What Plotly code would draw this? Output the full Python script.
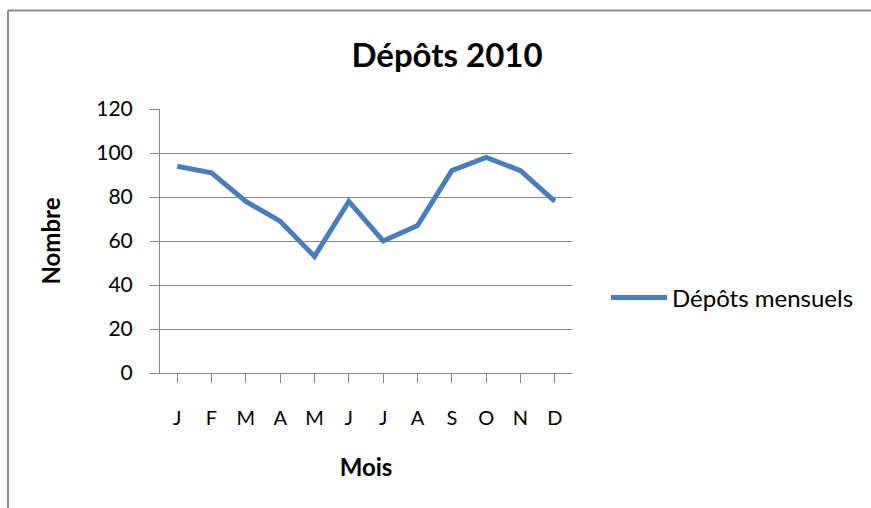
import plotly.graph_objects as go

months = ["J", "F", "M", "A", "M", "J", "J", "A", "S", "O", "N", "D"]
depots = [94, 91, 78, 69, 53, 78, 60, 67, 92, 98, 92, 78]
series_name = "Dépôts mensuels"
title_text = "Dépôts 2010"
x_title = "Mois"
y_title = "Nombre"
y_ticks = [0, 20, 40, 60, 80, 100, 120]

FONT = "Lato"
GRID = "#868686"
W, H = 871, 508
PL, PR, PT, PB = 160, 572, 109, 373
pw, ph = PR - PL, PB - PT


def px(x):
    return (x - PL) / pw


def py(y):
    return (PB - y) / ph


x_idx = list(range(len(months)))

fig = go.Figure()
fig.add_trace(go.Scatter(
    x=x_idx, y=depots, mode="lines", name=series_name,
    line=dict(color="#4a7ebb", width=5),
))

fig.update_layout(
    width=W, height=H,
    margin=dict(l=PL, r=W - PR, t=PT, b=H - PB),
    paper_bgcolor="white", plot_bgcolor="white",
    font=dict(family=FONT, color="#000000", size=20),
    title=dict(text="<b>" + title_text + "</b>", x=447 / W, xref="container",
               xanchor="center", y=1 - 55 / H, yref="container", yanchor="middle",
               font=dict(size=33, family=FONT)),
    showlegend=True,
    legend=dict(x=px(606), y=py(298), xanchor="left", yanchor="middle",
                font=dict(size=24, family=FONT), bgcolor="rgba(0,0,0,0)", itemwidth=56),
    shapes=[
        dict(type="line", xref="paper", yref="paper", x0=px(8), x1=px(8),
             y0=py(H), y1=py(10.5), line=dict(color="#8c8c8c", width=2)),
        dict(type="line", xref="paper", yref="paper", x0=px(8), x1=px(W),
             y0=py(10.5), y1=py(10.5), line=dict(color="#8c8c8c", width=2)),
    ],
)

fig.update_xaxes(
    range=[-0.5, 11.5],
    tickmode="array", tickvals=x_idx, ticktext=months,
    tickson="boundaries", ticks="outside", ticklen=9, tickcolor=GRID, tickwidth=1,
    showline=True, linecolor=GRID, linewidth=1,
    showgrid=False, zeroline=False,
    ticklabelstandoff=18,
    tickfont=dict(size=20, family=FONT),
    title=dict(text="<b>" + x_title + "</b>", font=dict(size=24, family=FONT), standoff=31),
)
fig.update_yaxes(
    range=[0, 120], tickmode="array", tickvals=y_ticks,
    ticks="outside", ticklen=9, tickcolor=GRID, tickwidth=1,
    showline=True, linecolor=GRID, linewidth=1,
    showgrid=True, gridcolor=GRID, gridwidth=1, zeroline=False,
    ticklabelstandoff=13,
    tickfont=dict(size=21, family=FONT),
    title=dict(text="<b>" + y_title + "</b>", font=dict(size=24, family=FONT), standoff=28),
)

fig.write_html("out.html", config={"displayModeBar": False},
               post_script="document.body.style.margin='0';")
